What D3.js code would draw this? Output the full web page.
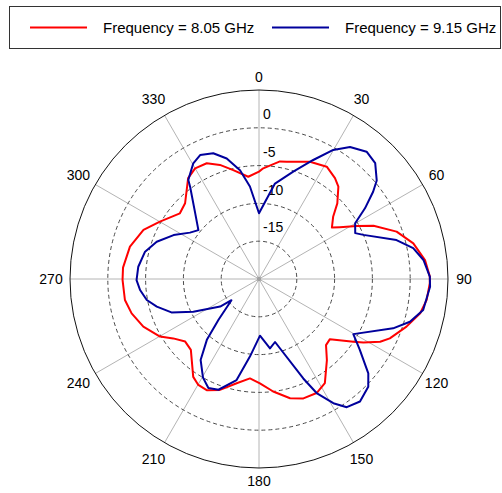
<!DOCTYPE html>
<html><head><meta charset="utf-8">
<script src="https://cdn.jsdelivr.net/npm/d3@7"></script>
<style>
html,body{margin:0;padding:0;background:#fff;}
svg{display:block;font-family:"Liberation Sans",Arial,sans-serif;}
</style></head>
<body>
<svg id="chart" width="502" height="493"></svg>
<script>
// ---- data ----
const seriesNames = ["Frequency = 8.05 GHz", "Frequency = 9.15 GHz"];
const seriesColors = ["#ff0000", "#00009c"];
const angleTicks = [0, 30, 60, 90, 120, 150, 180, 210, 240, 270, 300, 330];
const radialTicks = [0, -5, -10, -15];
const ringValues = [-20, -15, -10, -5];
const redAngles = [0, 2.2, 10.1, 13.3, 23.5, 31.1, 37.0, 40.7, 46.0, 50.0, 54.8, 57.3, 61.5, 65.1, 71.0, 77.0, 83.5, 89.2, 91.4, 97.1, 102.0, 107.9, 114.4, 117.4, 121.3, 123.6, 130.3, 134.6, 140.1, 147.7, 153.2, 159.6, 165.4, 172.8, 179.5, 185.2, 192.1, 199.4, 205.2, 209.8, 213.9, 223.9, 229.7, 235.3, 239.8, 247.6, 254.9, 261.1, 269.6, 274.8, 284.1, 293.0, 300.1, 309.7, 315.7, 324.9, 330.0, 335.7, 341.1, 346.7, 354.0];
const redDb = [-10.8, -10.35, -9.2, -9.05, -8.1, -7.65, -8.3, -8.9, -10.6, -12.2, -13.2, -12.3, -10.3, -8.3, -5.75, -4.05, -2.9, -2.4, -2.4, -2.65, -3.2, -4.5, -6.0, -6.95, -8.85, -10.0, -12.7, -12.55, -11.0, -8.7, -8.1, -8.15, -8.7, -10.0, -11.2, -11.8, -10.9, -9.45, -8.75, -8.85, -9.4, -12.0, -12.2, -11.2, -9.85, -8.45, -7.55, -7.05, -6.95, -6.95, -7.4, -8.4, -9.85, -11.4, -11.0, -8.7, -8.1, -8.2, -9.05, -10.2, -11.4];
const blueAngles = [0, 9.5, 17.7, 24.5, 29.9, 34.6, 40.2, 45.1, 50.1, 52.6, 56.3, 59.9, 64.5, 67.1, 74.2, 78.7, 83.4, 89.2, 92.6, 100.7, 105.8, 110.2, 120.3, 125.1, 130.8, 134.6, 140.5, 145.6, 149.1, 153.2, 156.0, 165.7, 171.0, 179.0, 186.6, 192.5, 200.1, 204.9, 209.6, 215.8, 220.6, 224.8, 232.4, 234.6, 243.5, 249.1, 254.9, 259.4, 264.7, 269.5, 275.8, 283.5, 290.0, 297.2, 303.9, 308.9, 315.8, 323.2, 324.5, 330.4, 334.6, 340.0, 345.0, 350.1, 354.4];
const blueDb = [-16.3, -12.2, -10.1, -7.7, -5.3, -3.8, -2.95, -3.3, -4.7, -6.0, -8.15, -10.3, -10.9, -10.0, -6.1, -4.2, -3.1, -2.4, -2.35, -2.9, -4.25, -6.1, -10.55, -8.7, -5.9, -4.7, -4.0, -4.45, -5.85, -8.1, -10.6, -16.4, -15.7, -17.5, -14.7, -11.3, -9.4, -9.1, -10.0, -11.8, -14.4, -17.4, -20.4, -18.7, -15.3, -12.6, -11.0, -9.9, -9.2, -8.8, -8.95, -9.5, -10.6, -12.3, -14.0, -14.7, -12.9, -9.8, -8.9, -7.4, -6.85, -7.3, -8.5, -10.4, -12.7];

// ---- layout ----
const svg = d3.select("#chart");
const cx = 259, cy = 279, R = 189;
const rScale = d3.scaleLinear().domain([-25, 0]).range([0, R]);
const rad = d => d * Math.PI / 180;

const g = svg.append("g").attr("transform", `translate(${cx},${cy})`);

// spokes
g.selectAll("line.spoke").data(angleTicks).join("line")
  .attr("x1", 0).attr("y1", 0)
  .attr("x2", d => R * Math.sin(rad(d)))
  .attr("y2", d => -R * Math.cos(rad(d)))
  .attr("stroke", "#b4b4b4").attr("stroke-width", 1);

// dashed rings
g.selectAll("circle.ring").data(ringValues).join("circle")
  .attr("r", d => rScale(d))
  .attr("fill", "none").attr("stroke", "#4a4a4a")
  .attr("stroke-width", 1).attr("stroke-dasharray", "4,3");

// outer circle
g.append("circle").attr("r", rScale(0)).attr("fill", "none")
  .attr("stroke", "#111").attr("stroke-width", 1);

g.append("circle").attr("r", 2.2).attr("fill", "#a0a0a0");

// angle labels
g.selectAll("text.ang").data(angleTicks).join("text")
  .attr("x", d => 205 * Math.sin(rad(d)) + (Math.sin(rad(d)) < -0.1 ? -3 : 0))
  .attr("y", d => -Math.cos(rad(d)) * (Math.abs(Math.cos(rad(d))) > 0.99 ? 202 : 208))
  .attr("text-anchor", "middle").attr("dominant-baseline", "central")
  .attr("font-size", 14).attr("fill", "#000")
  .text(d => d);

// radial labels
g.selectAll("text.rad").data(radialTicks).join("text")
  .attr("x", 4)
  .attr("y", d => -rScale(d) + 24)
  .attr("dominant-baseline", "central")
  .attr("font-size", 14).attr("fill", "#000")
  .text(d => d);

// curves
const line = d3.lineRadial()
  .angle(d => rad(d[0]))
  .radius(d => rScale(d[1]))
  .curve(d3.curveLinearClosed);

const series = [
  d3.zip(redAngles, redDb),
  d3.zip(blueAngles, blueDb)
];
series.forEach((s, i) => {
  g.append("path").attr("d", line(s)).attr("fill", "none")
    .attr("stroke", seriesColors[i]).attr("stroke-width", 2)
    .attr("stroke-linejoin", "round");
});

// legend
const lg = svg.append("g");
lg.append("rect").attr("x", 9.5).attr("y", 6.5).attr("width", 491).attr("height", 42)
  .attr("fill", "#fff").attr("stroke", "#333").attr("stroke-width", 1);
const legX = [30, 272];
seriesNames.forEach((n, i) => {
  lg.append("line").attr("x1", legX[i]).attr("x2", legX[i] + 57)
    .attr("y1", 27.5).attr("y2", 27.5)
    .attr("stroke", seriesColors[i]).attr("stroke-width", 2);
  lg.append("text").attr("x", legX[i] + 73).attr("y", 27.5)
    .attr("dominant-baseline", "central").attr("font-size", 15)
    .attr("fill", "#000").text(n);
});
</script>
</body></html>
